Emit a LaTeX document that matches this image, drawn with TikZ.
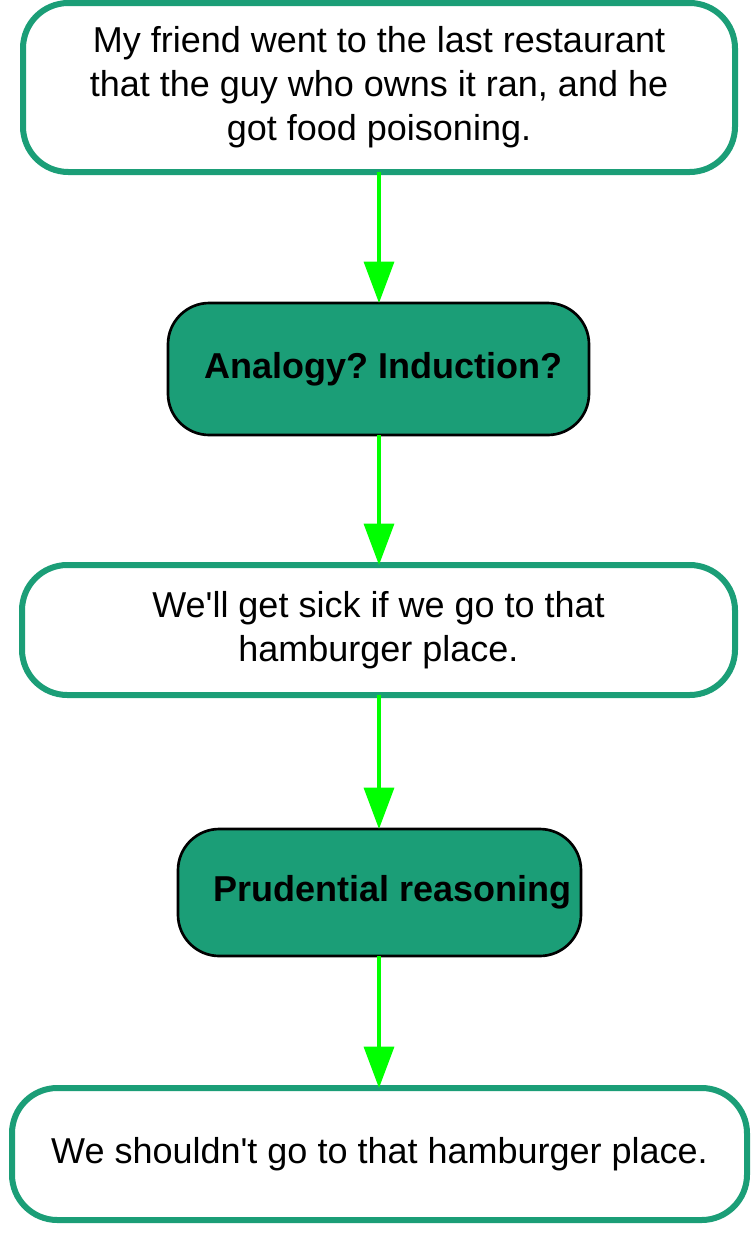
\documentclass[tikz,border=0pt]{standalone}
\usepackage{fontspec}
\setmainfont{Liberation Sans}[Ligatures=TeXOff]
\usetikzlibrary{arrows.meta}
\definecolor{teal2}{HTML}{1B9E77}
\definecolor{lime2}{HTML}{00FF00}
\tikzset{
  claim/.style={draw=teal2, line width=4.5pt, fill=white, rounded corners=34pt,
    align=center, inner sep=0pt, outer sep=0pt,
    font=\fontsize{27}{33}\selectfont},
  infer/.style={draw=black, line width=2pt, fill=teal2, rounded corners=31pt,
    align=center, inner sep=0pt, outer sep=0pt,
    font=\fontsize{27}{33}\selectfont\bfseries},
  link/.style={draw=lime2, line width=2.5pt,
    -{Triangle[length=31pt,width=22.5pt]}}
}
\begin{document}
\frenchspacing
\begin{tikzpicture}[x=0.75pt,y=-0.75pt]
\useasboundingbox (0,0) rectangle (755,1239);
\node[claim, minimum width=534pt, minimum height=126.75pt] (b1) at (379,87.5)
  {My friend went to the last restaurant\\that the guy who owns it ran, and he\\got food poisoning.};
\node[infer, minimum width=315.75pt, minimum height=99pt] (b2) at (378.5,369)
  {\hspace*{6.75pt}Analogy? Induction?};
\node[claim, minimum width=534.75pt, minimum height=97.5pt] (b3) at (378.5,630)
  {We'll get sick if we go to that\\hamburger place.};
\node[infer, minimum width=302.25pt, minimum height=95.25pt] (b4) at (379.5,892.5)
  {\hspace*{20pt}Prudential reasoning};
\node[claim, minimum width=551.25pt, minimum height=99pt] (b5) at (379.5,1154)
  {We shouldn't go to that hamburger place.};
\draw[link] (b1.south -| 379,0) -- (b2.north -| 379,0);
\draw[link] (b2.south -| 379,0) -- (b3.north -| 379,0);
\draw[link] (b3.south -| 379,0) -- (b4.north -| 379,0);
\draw[link] (b4.south -| 379,0) -- (b5.north -| 379,0);
\end{tikzpicture}
\end{document}
